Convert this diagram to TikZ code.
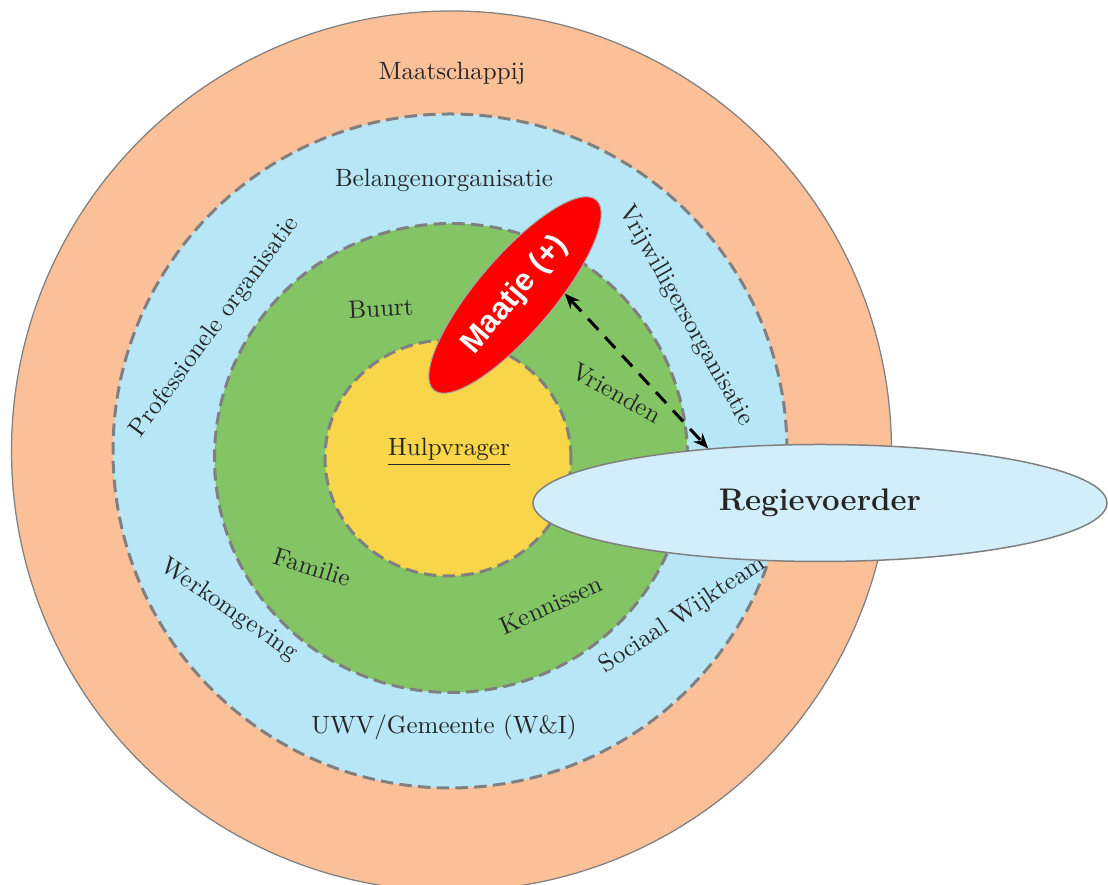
\documentclass[tikz,border=0pt]{standalone}
\usepackage{fontspec}
\newfontfamily\maatjefont{Liberation Sans}
\usetikzlibrary{shapes.geometric,arrows.meta}

\definecolor{oranje}{RGB}{251,192,152}
\definecolor{lichtblauw}{RGB}{183,230,247}
\definecolor{groen}{RGB}{131,196,101}
\definecolor{geel}{RGB}{249,214,73}
\definecolor{regieblauw}{RGB}{210,238,250}
\definecolor{tekst}{RGB}{38,38,38}

\begin{document}
\begin{tikzpicture}[x=0.4pt,y=0.4pt,
  ring/.style={draw=gray,line width=1.2pt,dash pattern=on 5pt off 2.5pt},
  lbl/.style={text=tekst,font=\fontsize{10}{12}\selectfont,inner sep=0pt}]
\useasboundingbox (0,0) rectangle (1108,885);

\filldraw[fill=oranje,draw=gray,line width=0.5pt] (451.5,434) circle[radius=440];
\filldraw[fill=lichtblauw,ring] (450,434) circle[radius=337];
\filldraw[fill=groen,ring] (451,427) ellipse[x radius=236.5,y radius=234.5];
\filldraw[fill=geel,ring] (448,427) ellipse[x radius=123,y radius=118];

\node[lbl] (maatschappij) at (452,812) {Maatschappij};
\node[lbl] (belangen) at (444,705) {Belangenorganisatie};
\node[lbl] (uwv) at (444,158) {UWV/Gemeente (W\&I)};
\node[lbl] (hulp) at (449,433) {\underline{Hulpvrager}};
\node[lbl,rotate=3] (buurt) at (381,577) {Buurt};
\node[lbl,rotate=-29] (vrienden) at (617,492) {Vrienden};
\node[lbl,rotate=-17.5] (familie) at (312,318) {Familie};
\node[lbl,rotate=24] (kennissen) at (551,280) {Kennissen};

\node[lbl,rotate=53.6] (profs) at (215,558) {Professionele organisatie};
\node[lbl,rotate=-60.5] (vrijw) at (686,569) {Vrijwilligersorganisatie};
\node[lbl,rotate=-34.5] (werk) at (229,275) {Werkomgeving};
\node[lbl,rotate=33.3] (wijk) at (683,270) {Sociaal Wijkteam};

\node[ellipse,fill=red,draw=gray!70,line width=0.4pt,minimum width=100pt,minimum height=30.4pt,
  inner sep=0pt,rotate=49.5,text=white,font=\maatjefont\bfseries\fontsize{12.5}{14}\selectfont]
  (maatje) at (515,590) {Maatje (+)};
\node[ellipse,fill=regieblauw,draw=gray,line width=0.6pt,minimum width=229.6pt,minimum height=46.8pt,
  inner sep=0pt,text=tekst,font=\bfseries\fontsize{12.5}{14}\selectfont]
  (regie) at (820,382) {Regievoerder};

\draw[{Stealth[length=6pt,width=5pt]}-{Stealth[length=6pt,width=5pt]},line width=1.2pt,
  dash pattern=on 6pt off 4pt] (maatje.-48) -- (regie.154.5);
\end{tikzpicture}
\end{document}
